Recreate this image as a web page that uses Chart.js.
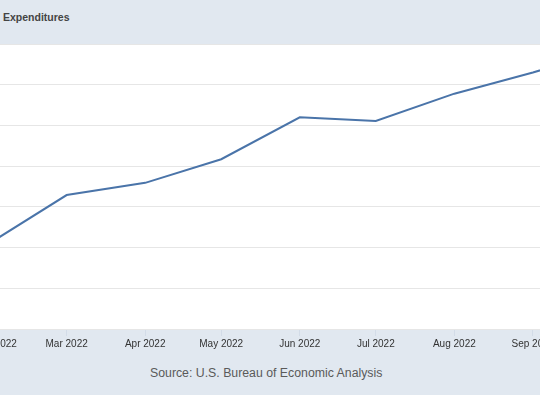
<!DOCTYPE html>
<html>
<head>
<meta charset="utf-8">
<script src="https://cdn.jsdelivr.net/npm/chart.js@4"></script>
<style>
  html, body { margin: 0; padding: 0; }
  body {
    width: 540px; height: 395px; overflow: hidden; position: relative;
    background: #e1e8f0; font-family: "Liberation Sans", Arial, Helvetica, sans-serif;
  }
  #title {
    position: absolute; left: 3px; top: 11px;
    font-size: 10.5px; font-weight: bold; color: #444;
  }
  #wrap { position: absolute; left: -40px; top: 44px; width: 620px; height: 310px; }
  #source {
    position: absolute; left: 150px; top: 366px;
    font-size: 12.3px; color: #5a5a5a;
  }
</style>
</head>
<body>
<div id="title">Expenditures</div>
<div id="wrap"><canvas id="pceChart"></canvas></div>
<div id="source">Source: U.S. Bureau of Economic Analysis</div>

<script>
// days counted from Feb 1 2022
const monthDays = [0, 28, 59, 89, 120, 150, 181, 212, 242];
const monthLabels = ["Feb 2022", "Mar 2022", "Apr 2022", "May 2022", "Jun 2022",
                     "Jul 2022", "Aug 2022", "Sep 2022", "Oct 2022"];
// (scale only inferred, axis labels are cropped away)
const spending = [17020, 17129, 17159, 17217, 17320, 17311, 17378, 17430, 17485];
const tickDays = monthDays.slice(0, 8);

/* white plot area over the grey page */
const plotBackground = {
  id: "plotBackground",
  beforeDraw(chart) {
    const { ctx, chartArea } = chart;
    ctx.save();
    ctx.fillStyle = "#ffffff";
    ctx.fillRect(chartArea.left, chartArea.top, chartArea.right - chartArea.left, chartArea.bottom - chartArea.top);
    ctx.restore();
  }
};

new Chart(document.getElementById("pceChart"), {
  type: "line",
  data: {
    datasets: [{
      data: monthDays.map((d, i) => ({ x: d, y: spending[i] })),
      borderColor: "#4a74a9",
      borderWidth: 2,
      pointRadius: 0,
      tension: 0,
      fill: false
    }]
  },
  options: {
    responsive: true,
    maintainAspectRatio: false,
    animation: false,
    layout: { padding: { left: 40, right: 40, top: 0, bottom: 0 } },
    plugins: { legend: { display: false }, tooltip: { enabled: false } },
    scales: {
      x: {
        type: "linear",
        min: 1.7,
        max: 214.8,
        afterBuildTicks: scale => { scale.ticks = tickDays.map(v => ({ value: v })); },
        afterFit: scale => { scale.height = 25; },
        grid: { drawOnChartArea: false, drawTicks: true, tickLength: 7, color: "#d3dce8" },
        border: { display: false },
        ticks: {
          autoSkip: false,
          maxRotation: 0,
          padding: 2,
          color: "#333",
          font: { family: "'Liberation Sans', Arial, sans-serif", size: 10 },
          callback: value => monthLabels[monthDays.indexOf(value)]
        }
      },
      y: {
        min: 16800,
        max: 17500,
        afterFit: scale => { scale.width = 0; },
        ticks: { display: false, stepSize: 100 },
        grid: { color: "#e6e6e6", drawTicks: false },
        border: { display: false }
      }
    }
  },
  plugins: [plotBackground]
});
</script>
</body>
</html>
